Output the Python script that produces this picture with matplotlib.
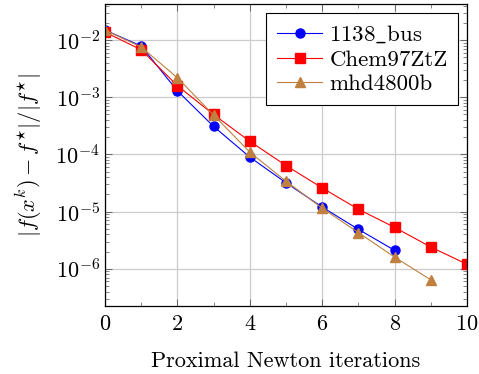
import numpy as np
import matplotlib
matplotlib.use("Agg")
import matplotlib.pyplot as plt
from matplotlib.ticker import LogLocator, MultipleLocator

plt.rcParams["font.family"] = "serif"
plt.rcParams["font.serif"] = ["cmr10"]
plt.rcParams["mathtext.fontset"] = "cm"
plt.rcParams["axes.formatter.use_mathtext"] = True

iters = np.arange(11)

bus_1138 = [1.5e-2, 7.9e-3, 1.3e-3, 3.1e-4, 9.0e-5, 3.2e-5, 1.2e-5, 4.9e-6, 2.1e-6]
chem97 = [1.38e-2, 6.8e-3, 1.6e-3, 5.0e-4, 1.7e-4, 6.4e-5, 2.6e-5, 1.1e-5, 5.3e-6, 2.4e-6, 1.2e-6]
mhd4800b = [1.5e-2, 7.6e-3, 2.2e-3, 4.9e-4, 1.1e-4, 3.4e-5, 1.15e-5, 4.3e-6, 1.6e-6, 6.4e-7]

brown = (0.75, 0.5, 0.25)

fig = plt.figure(figsize=(4.79, 3.74), dpi=100)
ax = fig.add_axes([0.219, 0.182, 0.756, 0.807])

ax.plot(iters[:len(bus_1138)], bus_1138, color="blue", marker="o", ms=6.5, lw=0.8,
        label=r"1138$\_$bus")
ax.plot(iters[:len(chem97)], chem97, color="red", marker="s", ms=6.5, lw=0.8,
        label="Chem97ZtZ")
ax.plot(iters[:len(mhd4800b)], mhd4800b, color=brown, marker="^", ms=7.5, lw=0.8,
        label="mhd4800b")

ax.set_yscale("log")
ax.set_xlim(0, 10)
ax.set_ylim(10**-6.65, 10**-1.37)
ax.xaxis.set_major_locator(MultipleLocator(2))
ax.xaxis.set_minor_locator(MultipleLocator(1))
ax.yaxis.set_major_locator(LogLocator(base=10, numticks=20))
ax.yaxis.set_minor_locator(LogLocator(base=10, subs=np.arange(2, 10), numticks=20))

ax.grid(True, which="major", color="#cccccc", lw=0.9)
ax.set_axisbelow(True)
ax.tick_params(which="both", direction="in", top=True, right=True, labelsize=16)
ax.tick_params(which="major", length=5, width=0.6, color="#555555")
ax.tick_params(which="minor", length=3, width=0.5, color="#555555")
ax.tick_params(axis="x", pad=6)
for s in ax.spines.values():
    s.set_linewidth(0.9)

ax.set_xlabel("Proximal Newton iterations", fontsize=16, labelpad=13)
ax.set_ylabel(r"$|f(x^k)-f^{\star}|/|f^{\star}|$", fontsize=16, labelpad=8)

leg = ax.legend(loc="upper right", fontsize=16.5, fancybox=False, framealpha=1,
                edgecolor="black", borderaxespad=0.4, handlelength=2.0,
                labelspacing=0.2, handletextpad=0.3, borderpad=0.45)
leg.get_frame().set_linewidth(0.8)

fig.savefig("out.png", dpi=100)
